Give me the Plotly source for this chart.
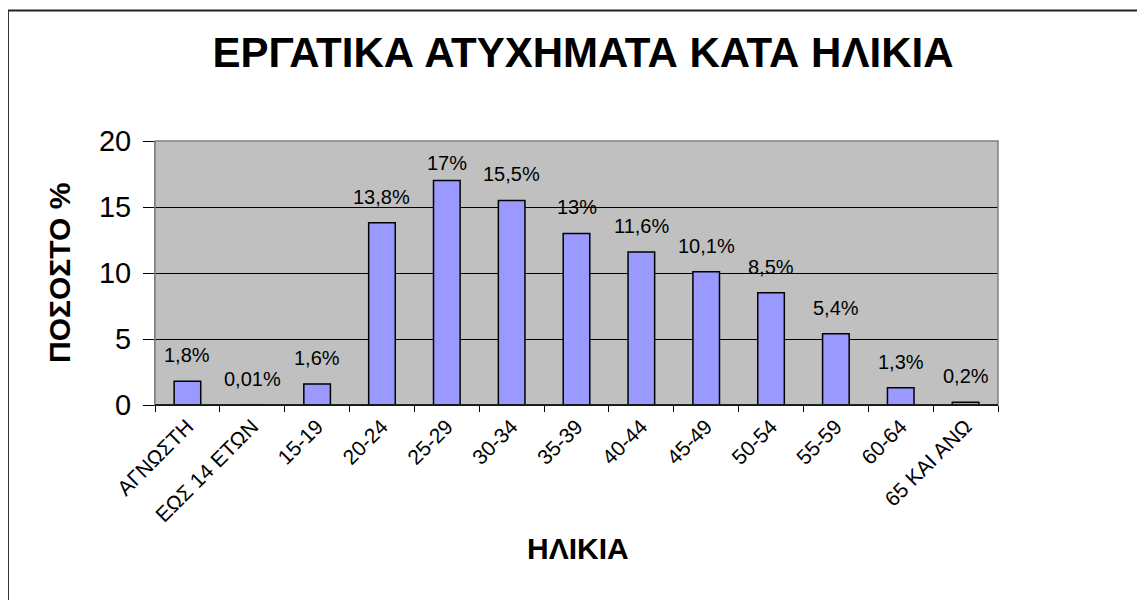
import plotly.graph_objects as go

categories = ["ΑΓΝΩΣΤΗ", "ΕΩΣ 14 ΕΤΩΝ", "15-19", "20-24", "25-29", "30-34", "35-39",
              "40-44", "45-49", "50-54", "55-59", "60-64", "65 ΚΑΙ ΑΝΩ"]
values = [1.8, 0.01, 1.6, 13.8, 17, 15.5, 13, 11.6, 10.1, 8.5, 5.4, 1.3, 0.2]
labels = ["1,8%", "0,01%", "1,6%", "13,8%", "17%", "15,5%", "13%", "11,6%",
          "10,1%", "8,5%", "5,4%", "1,3%", "0,2%"]
y_ticks = [0, 5, 10, 15, 20]
y_max = 20

FONT = "Liberation Sans, Arial, sans-serif"

W, H = 1129, 592
L, R, T, B = 147, 139, 133, 195
plot_h = H - T - B
plot_w = W - L - R

fig = go.Figure()
fig.add_trace(go.Bar(
    x=categories, y=values,
    marker=dict(color="#9999FF", line=dict(color="black", width=1.5)),
    width=0.41,
    hoverinfo="skip",
))

for c, v, t in zip(categories, values, labels):
    room = (y_max - v) * plot_h / y_max
    shift = min(13, room - 35)
    fig.add_annotation(x=c, y=v, text=t, showarrow=False, yanchor="bottom",
                       yshift=shift, font=dict(family=FONT, size=20, color="black"))

# axis titles
fig.add_annotation(xref="paper", yref="paper", x=(51 - L) / plot_w, y=0.5,
                   text="<b>ΠΟΣΟΣΤΟ %</b>", textangle=-90, showarrow=False,
                   xanchor="center", yanchor="middle",
                   font=dict(family=FONT, size=30, color="black"))
fig.add_annotation(xref="paper", yref="paper", x=(570 - L) / plot_w,
                   y=(T + plot_h - 540) / plot_h,
                   text="<b>ΗΛΙΚΙΑ</b>", showarrow=False,
                   xanchor="center", yanchor="middle",
                   font=dict(family=FONT, size=30, color="black"))

# outer frame (top and left edges visible in the picture)
fx0 = (0 - L) / plot_w
fy1 = (T + plot_h - 2.5) / plot_h
fig.add_shape(type="line", xref="paper", yref="paper",
              x0=fx0, x1=(W - L) / plot_w, y0=fy1, y1=fy1,
              line=dict(color="#222222", width=2), layer="below")
fig.add_shape(type="line", xref="paper", yref="paper",
              x0=fx0, x1=fx0, y0=(T + plot_h - H) / plot_h, y1=fy1,
              line=dict(color="#333333", width=2), layer="below")

fig.update_layout(
    width=W, height=H,
    margin=dict(l=L, r=R, t=T, b=B),
    paper_bgcolor="white", plot_bgcolor="#C0C0C0",
    showlegend=False,
    title=dict(text="<b>ΕΡΓΑΤΙΚΑ ΑΤΥΧΗΜΑΤΑ ΚΑΤΑ ΗΛΙΚΙΑ</b>", x=575 / W, xanchor="center",
               y=1 - 44 / H, yanchor="middle",
               font=dict(family=FONT, size=42, color="black")),
    font=dict(family=FONT, color="black"),
)

fig.update_xaxes(
    type="category", tickangle=-45, ticks="outside", tickson="boundaries",
    ticklen=6, tickcolor="black", tickfont=dict(family=FONT, size=21, color="black"),
    showline=True, linecolor="black", linewidth=1, mirror=False, showgrid=False,
)
fig.update_yaxes(
    range=[0, y_max], tickvals=y_ticks, ticks="outside", ticklen=11, tickcolor="black",
    ticklabelstandoff=6,
    tickfont=dict(family=FONT, size=29, color="black"),
    showgrid=True, gridcolor="black", gridwidth=1, zeroline=False,
    showline=True, linecolor="#808080", linewidth=1,
)
# plot area border
fig.add_shape(type="rect", xref="paper", yref="paper", x0=0, x1=1, y0=0, y1=1,
              line=dict(color="#808080", width=1.5))
fig.add_shape(type="line", xref="paper", yref="paper", x0=0, x1=1, y0=0, y1=0,
              line=dict(color="black", width=1.5))

fig.write_html("out.html")
